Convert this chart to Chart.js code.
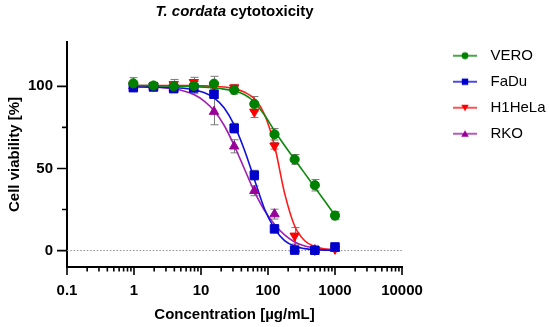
<!DOCTYPE html>
<html><head><meta charset="utf-8">
<script src="https://cdn.jsdelivr.net/npm/chart.js@4"></script>
<style>html,body{margin:0;padding:0;background:#fff}#wrap{width:550px;height:327px;position:relative}</style>
</head><body><div id="wrap"><canvas id="c"></canvas></div>
<script>
// ---- data ----
const concentrations = [0.977, 1.953, 3.906, 7.813, 15.625, 31.25, 62.5, 125, 250, 500, 1000];
const veroMean = [101.8, 100.5, 100.0, 100.3, 101.6, 97.8, 89.3, 70.8, 55.5, 39.8, 21.3];
const veroSD   = [3.5, 2, 3, 2.5, 4.5, 2.5, 4.5, 3.5, 3, 3.5, 2.5];
const faduMean = [99.2, 99.6, 98.6, 99.0, 95.2, 74.5, 45.9, 13.2, 0.3, 0.2, 2.2];
const faduSD   = [1.5, 1.5, 2, 2, 2.5, 3, 3, 1.5, 1, 1, 1];
const helaMean = [100.5, 100.2, 101.2, 102.5, 100.5, 99.2, 84.5, 63.8, 9.0, 0.3, 1.0];
const helaSD   = [2, 1.5, 3, 3, 2, 2, 3.5, 2, 5, 1, 1];
const rkoMean  = [100.3, 100.0, 99.2, 98.5, 84.6, 63.5, 36.4, 22.2, 0.8, 0.4, 1.2];
const rkoSD    = [2, 1.5, 2, 3, 8, 4, 3, 3, 1, 1, 1];

// fitted curves
const curveConc = [0.977, 1.381, 1.953, 2.762, 3.906, 5.524, 7.813, 11.05, 15.625, 22.1, 31.25, 44.19, 62.5, 88.39, 125, 176.8, 250, 353.6, 500, 707.1, 1000];
const veroCurve = [100.6, 100.5, 100.4, 100.3, 100.2, 100.0, 99.8, 99.5, 99.0, 98.3, 97.2, 95.0, 90.5, 82.5, 73.0, 64.0, 55.5, 47.0, 38.5, 30.0, 21.5];
const faduCurve = [99.6, 99.6, 99.5, 99.4, 99.2, 98.8, 97.9, 96.2, 93.0, 87.0, 76.5, 61.5, 43.5, 25.5, 13.5, 6.0, 2.6, 1.2, 0.6, 0.3, 0.2];
const helaCurve = [100.5, 100.5, 100.5, 100.5, 100.5, 100.5, 100.4, 100.3, 100.1, 99.6, 98.6, 96.5, 92.5, 83.0, 64.0, 35.0, 15.0, 6.0, 2.5, 1.0, 0.5];
const rkoCurve  = [99.9, 99.8, 99.6, 99.2, 98.5, 97.2, 95.0, 91.2, 85.3, 76.3, 64.0, 50.0, 36.0, 24.5, 16.0, 9.5, 5.2, 2.8, 1.5, 0.8, 0.5];

const seriesNames = ['VERO', 'FaDu', 'H1HeLa', 'RKO'];
const xTickValues = [0.1, 1, 10, 100, 1000, 10000];
const xTickLabels = ['0.1', '1', '10', '100', '1000', '10000'];
const xMinorTicks = [0.2,0.3,0.4,0.5,0.6,0.7,0.8,0.9, 2,3,4,5,6,7,8,9, 20,30,40,50,60,70,80,90, 200,300,400,500,600,700,800,900, 2000,3000,4000,5000,6000,7000,8000,9000];
const yTickValues = [0, 50, 100];
const yTickLabels = ['0', '50', '100'];
const yMinorTicks = [25, 75];

// ---- styling ----
const FONT = "'Liberation Sans', Arial, Helvetica, sans-serif";
Chart.defaults.font.family = FONT;
Chart.defaults.color = '#000';

const series = [
  {name: seriesNames[0], mean: veroMean, sd: veroSD, curve: veroCurve, color: '#008000', line: '#0a8a0a', style: 'circle', rot: 0, r: 4.6},
  {name: seriesNames[1], mean: faduMean, sd: faduSD, curve: faduCurve, color: '#0000cc', line: '#1010dd', style: 'rect', rot: 0, r: 6},
  {name: seriesNames[2], mean: helaMean, sd: helaSD, curve: helaCurve, color: '#ff0000', line: '#ff1a1a', style: 'triangle', rot: 180, r: 5.4},
  {name: seriesNames[3], mean: rkoMean, sd: rkoSD, curve: rkoCurve, color: '#990099', line: '#a020b0', style: 'triangle', rot: 0, r: 5.4}
];

function legendIcon(s) {
  const c = document.createElement('canvas');
  c.width = 60; c.height = 14;
  const g = c.getContext('2d');
  g.strokeStyle = s.line; g.lineWidth = 1.5;
  g.beginPath(); g.moveTo(35, 7); g.lineTo(59, 7); g.stroke();
  g.fillStyle = s.color;
  const cx = 47, cy = 7;
  g.beginPath();
  if (s.style === 'circle') { g.arc(cx, cy, 3.4, 0, Math.PI * 2); }
  else if (s.style === 'rect') { g.rect(cx - 3.2, cy - 3.2, 6.4, 6.4); }
  else if (s.rot === 180) { g.moveTo(cx - 3.8, cy - 3); g.lineTo(cx + 3.8, cy - 3); g.lineTo(cx, cy + 3.6); g.closePath(); }
  else { g.moveTo(cx - 3.8, cy + 3); g.lineTo(cx + 3.8, cy + 3); g.lineTo(cx, cy - 3.6); g.closePath(); }
  g.fill();
  return c;
}

const datasets = [];
series.forEach(s => {
  datasets.push({
    label: s.name,
    data: concentrations.map((x, i) => ({x, y: s.mean[i]})),
    showLine: false,
    pointStyle: s.style, rotation: s.rot, pointRadius: s.r,
    pointBackgroundColor: s.color, pointBorderColor: s.color, pointBorderWidth: 1,
    order: 0
  });
});
series.forEach(s => {
  datasets.push({
    label: s.name + ' fit',
    data: curveConc.map((x, i) => ({x, y: s.curve[i]})),
    showLine: true, pointRadius: 0, borderColor: s.line, borderWidth: 1.6,
    cubicInterpolationMode: 'monotone', order: 1
  });
});
datasets.push({
  label: 'zero',
  data: [{x: 0.1, y: 0}, {x: 10000, y: 0}],
  showLine: true, pointRadius: 0, borderColor: '#8c8c8c', borderWidth: 1,
  borderDash: [1.5, 1.8], order: 2
});

const errorBars = {
  id: 'errorBars',
  beforeDatasetsDraw(chart) {
    const {ctx} = chart; const x = chart.scales.x, y = chart.scales.y;
    ctx.save(); ctx.strokeStyle = '#7a7a7a'; ctx.lineWidth = 1;
    series.forEach(s => {
      concentrations.forEach((c, i) => {
        const px = Math.round(x.getPixelForValue(c)) + 0.5;
        const t = y.getPixelForValue(s.mean[i] + s.sd[i]);
        const b = y.getPixelForValue(s.mean[i] - s.sd[i]);
        ctx.beginPath();
        ctx.moveTo(px, t); ctx.lineTo(px, b);
        ctx.moveTo(px - 4, t); ctx.lineTo(px + 4, t);
        ctx.moveTo(px - 4, b); ctx.lineTo(px + 4, b);
        ctx.stroke();
      });
    });
    ctx.restore();
  }
};

const tickMarks = {
  id: 'tickMarks',
  afterDraw(chart) {
    const {ctx, chartArea} = chart; const x = chart.scales.x, y = chart.scales.y;
    ctx.save(); ctx.strokeStyle = '#000'; ctx.lineWidth = 1.6;
    ctx.beginPath();
    xTickValues.forEach(v => { const p = x.getPixelForValue(v); ctx.moveTo(p, chartArea.bottom); ctx.lineTo(p, chartArea.bottom + 8); });
    xMinorTicks.forEach(v => { const p = x.getPixelForValue(v); ctx.moveTo(p, chartArea.bottom); ctx.lineTo(p, chartArea.bottom + 4.5); });
    yTickValues.forEach(v => { const p = y.getPixelForValue(v); ctx.moveTo(chartArea.left, p); ctx.lineTo(chartArea.left - 10, p); });
    yMinorTicks.forEach(v => { const p = y.getPixelForValue(v); ctx.moveTo(chartArea.left, p); ctx.lineTo(chartArea.left - 5, p); });
    ctx.stroke();
    ctx.restore();
  }
};

const layoutTweaks = {
  id: 'layoutTweaks',
  beforeLayout(chart) {
    const lg = chart.legend;
    if (lg && !lg._patched) {
      const f = lg.fit;
      lg.fit = function () { f.call(this); this.width = 148; };
      lg._patched = true;
    }
    const tb = chart.titleBlock;
    if (tb && !tb._patched) {
      tb.draw = function () {
        const ctx = this.ctx;
        const cx = (this.left + this.right) / 2;
        const cy = this.top + 3 + 9;
        const f1 = 'italic bold 15px ' + FONT, f2 = 'bold 15px ' + FONT;
        const p1 = 'T. cordata', p2 = ' cytotoxicity';
        ctx.save();
        ctx.font = f1; const w1 = ctx.measureText(p1).width;
        ctx.font = f2; const w2 = ctx.measureText(p2).width;
        const x0 = cx - (w1 + w2) / 2;
        ctx.fillStyle = '#000'; ctx.textBaseline = 'middle'; ctx.textAlign = 'left';
        ctx.font = f1; ctx.fillText(p1, x0, cy);
        ctx.font = f2; ctx.fillText(p2, x0 + w1, cy);
        ctx.restore();
      };
      tb._patched = true;
    }
  }
};

new Chart(document.getElementById('c'), {
  type: 'scatter',
  data: {datasets},
  options: {
    responsive: true, maintainAspectRatio: false, animation: false,
    events: [],
    layout: {padding: 0},
    plugins: {
      tooltip: {enabled: false},
      title: {
        display: true, text: 'T. cordata cytotoxicity', fullSize: false,
        font: {size: 15, weight: 'bold', lineHeight: 1.2}, padding: {top: 3, bottom: 21}, color: '#000'
      },
      legend: {
        display: true, position: 'right', align: 'start', fullSize: true,
        title: {display: true, text: '', font: {size: 10, lineHeight: 1}, padding: {top: 27.2, bottom: 0}},
        labels: {
          usePointStyle: true, pointStyleWidth: 70, padding: 11,
          font: {size: 15}, color: '#000',
          generateLabels: () => series.map((s, i) => ({
            text: s.name, pointStyle: legendIcon(s), fillStyle: s.color, strokeStyle: s.color,
            lineWidth: 0, hidden: false, datasetIndex: i, fontColor: '#000'
          }))
        }
      }
    },
    scales: {
      x: {
        type: 'logarithmic', min: 0.1, max: 10000, position: 'bottom',
        afterFit: s => { s.height = 60; },
        afterBuildTicks: s => { s.ticks = xTickValues.map(v => ({value: v, major: true})); },
        grid: {display: false, drawTicks: false},
        border: {display: true, color: '#000', width: 2},
        ticks: {
          autoSkip: false, maxRotation: 0, padding: 15,
          font: {size: 15, weight: 'bold'}, color: '#000',
          callback: (v, i) => xTickLabels[i]
        },
        title: {display: true, text: 'Concentration [µg/mL]', font: {size: 15, weight: 'bold'}, color: '#000', padding: {top: 0, bottom: 3}}
      },
      y: {
        type: 'linear', min: -10, max: 127, position: 'left',
        afterFit: s => { s.width = 67; },
        afterBuildTicks: s => { s.ticks = yTickValues.map(v => ({value: v})); },
        grid: {display: false, drawTicks: false},
        border: {display: true, color: '#000', width: 2},
        ticks: {
          padding: 14, font: {size: 15, weight: 'bold'}, color: '#000',
          callback: (v, i) => yTickLabels[i]
        },
        title: {display: true, text: 'Cell viability [%]', font: {size: 15, weight: 'bold'}, color: '#000', padding: {top: 6, bottom: 0}}
      }
    }
  },
  plugins: [errorBars, tickMarks, layoutTweaks]
});
</script>
</body></html>
